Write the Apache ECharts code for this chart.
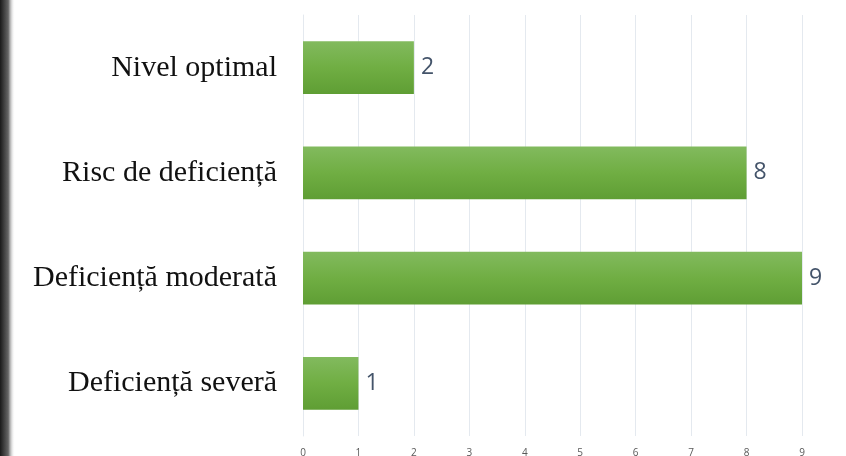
<!DOCTYPE html>
<html>
<head>
<meta charset="utf-8">
<script src="https://cdn.jsdelivr.net/npm/echarts@6/dist/echarts.min.js"></script>
<style>
html,body{margin:0;padding:0;background:#fff;}
#c{width:846px;height:456px;}
</style>
</head>
<body>
<div id="c"></div>
<script>
var categories = ['Deficiență severă', 'Deficiență moderată', 'Risc de deficiență', 'Nivel optimal'];
var values = [1, 9, 8, 2];
var tickLabels = ['0','1','2','3','4','5','6','7','8','9'];

var chart = echarts.init(document.getElementById('c'), null, {renderer:'canvas'});
chart.setOption({
  animation: false,
  backgroundColor: '#ffffff',
  graphic: [{
    type: 'rect', left: 0, top: 0, z: 100,
    shape: {width: 15, height: 456},
    style: {fill: new echarts.graphic.LinearGradient(0,0,1,0,[
      {offset:0, color:'#1a1a1a'},{offset:0.55, color:'#666'},{offset:1, color:'rgba(255,255,255,0)'}
    ])}
  }],
  grid: {left: 303, right: 44, top: 15, bottom: 20, containLabel: false, outerBoundsMode: 'none'},
  xAxis: {
    type: 'value', min: 0, max: 9, interval: 1,
    axisLine: {show: false},
    axisTick: {show: false},
    splitLine: {show: true, lineStyle: {color: '#e4e9ef', width: 1}},
    axisLabel: {
      color: '#595959', fontSize: 10, fontFamily: 'Open Sans', margin: 12,
      formatter: function(v){ return tickLabels[v]; }
    }
  },
  yAxis: {
    type: 'category', data: categories,
    axisLine: {show: true, lineStyle: {color: '#e4e9ef', width: 1}},
    axisTick: {show: false},
    axisLabel: {color: '#111', fontSize: 30, fontFamily: 'Liberation Serif', margin: 26, padding: [3, 0, 0, 0]}
  },
  series: [{
    type: 'bar', data: values, barWidth: '50%',
    itemStyle: {color: new echarts.graphic.LinearGradient(0,0,0,1,[
      {offset:0, color:'#82ba5e'},{offset:0.5, color:'#70ae43'},{offset:1, color:'#5f9e34'}
    ])},
    label: {show: true, position: 'right', distance: 7, color: '#44546a', fontSize: 23, fontFamily: 'Open Sans'}
  }]
});
</script>
</body>
</html>
